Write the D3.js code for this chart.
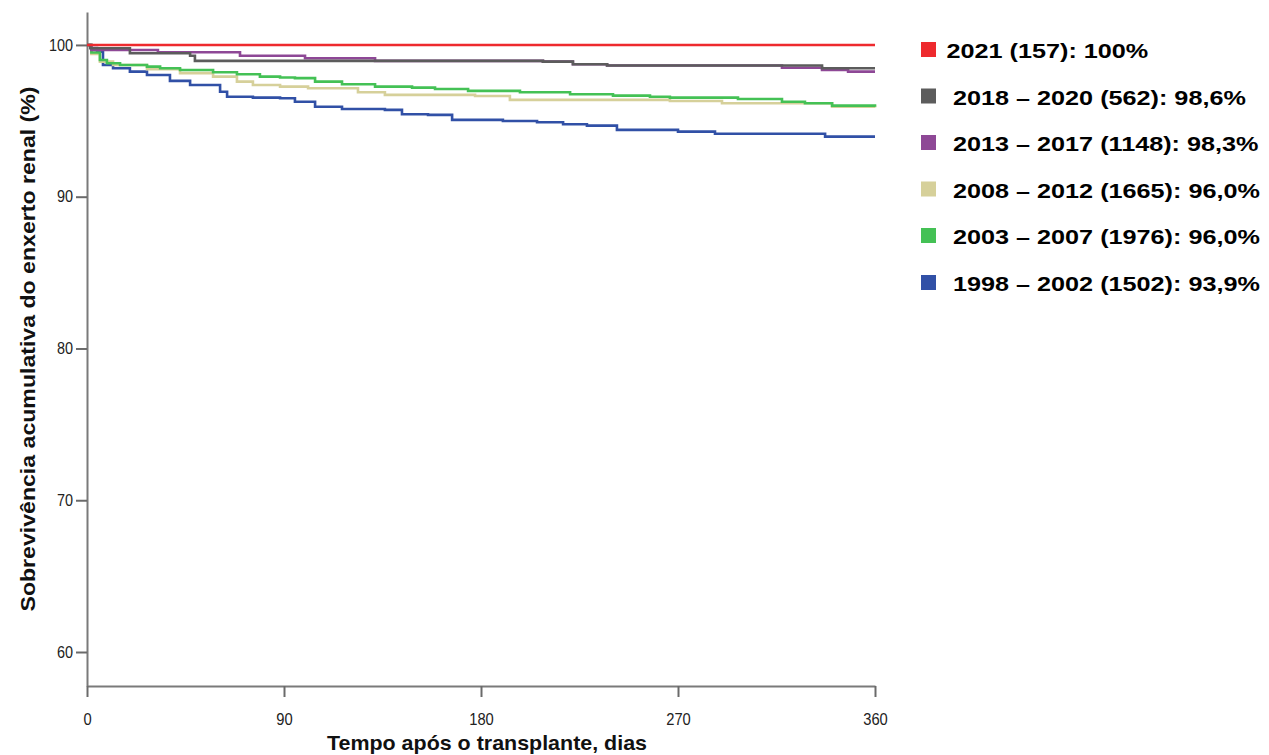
<!DOCTYPE html>
<html>
<head>
<meta charset="utf-8">
<script src="https://cdn.jsdelivr.net/npm/d3@7"></script>
<style>
  html, body { margin: 0; padding: 0; background: #fff; }
  svg { display: block; }
  text { font-family: "Liberation Sans", Arial, sans-serif; }
</style>
</head>
<body>
<svg id="chart" width="1269" height="755"></svg>
<script>
// ---------- data ----------
const seriesLabels = [
  "2021 (157): 100%",
  " 2018 \u2013 2020 (562): 98,6%",
  " 2013 \u2013 2017 (1148): 98,3%",
  " 2008 \u2013 2012 (1665): 96,0%",
  " 2003 \u2013 2007 (1976): 96,0%",
  " 1998 \u2013 2002 (1502): 93,9%"
];
const seriesColors = ["#ee2a2e", "#5c5c5c", "#8e4896", "#d6d09a", "#44c155", "#3150a6"];

const days2021 = [0, 360];
const surv2021 = [100, 100];

const days2018 = [0, 1.5, 19.6, 47.1, 49.3, 208.3, 222, 237.6, 335.8, 360];
const surv2018 = [100, 99.78, 99.45, 99.29, 98.95, 98.9, 98.73, 98.64, 98.46, 98.46];

const days2013 = [0, 2, 32.4, 69.9, 99.6, 131.6, 208.3, 222, 237.6, 317.5, 335.8, 347.7, 360];
const surv2013 = [100, 99.67, 99.52, 99.29, 99.12, 98.95, 98.9, 98.73, 98.64, 98.5, 98.35, 98.24, 98.24];

const days2008 = [0, 2, 5.9, 11.9, 27.4, 42.5, 57.6, 68.5, 75.8, 88.2, 101.0, 123.8, 136.1, 177.3, 193.2, 266.3, 290.1, 340.4, 360];
const surv2008 = [100, 99.4, 98.9, 98.68, 98.4, 98.14, 97.91, 97.58, 97.36, 97.25, 97.15, 96.88, 96.71, 96.64, 96.38, 96.31, 96.16, 95.93, 95.87];

const days2003 = [0, 2, 5.9, 9.1, 15.1, 27.4, 33.4, 42.5, 57.6, 68.5, 79.0, 88.2, 95.0, 104.2, 116.5, 131.6, 148.5, 159.0, 174.1, 197.8, 220.7, 240.3, 257.2, 266.3, 297.4, 317.5, 328.0, 340.4, 360];
const surv2003 = [100, 99.5, 99.01, 98.79, 98.68, 98.57, 98.46, 98.35, 98.2, 98.07, 97.91, 97.85, 97.81, 97.58, 97.41, 97.25, 97.19, 97.1, 96.97, 96.88, 96.75, 96.66, 96.59, 96.53, 96.44, 96.26, 96.16, 96.0, 95.93];

const days1998 = [0, 2, 4.6, 7.3, 11.9, 19.6, 27.4, 37.9, 47.1, 60.8, 64.0, 75.8, 88.2, 95.0, 104.2, 116.5, 136.1, 143.9, 155.8, 166.8, 190.0, 205.6, 217.5, 228.4, 242.1, 270.0, 286.9, 337.2, 360];
const surv1998 = [100, 99.8, 99.56, 98.68, 98.46, 98.24, 98.02, 97.63, 97.36, 96.92, 96.59, 96.53, 96.49, 96.26, 95.93, 95.78, 95.72, 95.43, 95.39, 95.06, 94.99, 94.91, 94.77, 94.68, 94.4, 94.29, 94.15, 93.96, 93.96];

const xTicks = [0, 90, 180, 270, 360];
const yTicks = [60, 70, 80, 90, 100];
const xTitle = "Tempo ap\u00f3s o transplante, dias";
const yTitle = "Sobreviv\u00eancia acumulativa do enxerto renal (%)";

// ---------- chart ----------
const svg = d3.select("#chart");
const x = d3.scaleLinear().domain([0, 360]).range([87, 875]);
const y = d3.scaleLinear().domain([57.76, 102.17]).range([686, 12]);

const allDays = [days2021, days2018, days2013, days2008, days2003, days1998];
const allSurv = [surv2021, surv2018, surv2013, surv2008, surv2003, surv1998];

// axes
const yAxis = svg.append("g").attr("transform", "translate(87,0)")
  .call(d3.axisLeft(y).tickValues(yTicks).tickSize(11).tickSizeOuter(0).tickPadding(3).tickFormat(d3.format("d")));
const xAxis = svg.append("g").attr("transform", "translate(0,686)")
  .call(d3.axisBottom(x).tickValues(xTicks).tickSize(11).tickSizeOuter(0).tickPadding(17).tickFormat(d3.format("d")));
[yAxis, xAxis].forEach(g => {
  g.select(".domain").attr("stroke", "#7a7a7a").attr("stroke-width", 2);
  g.selectAll(".tick line").attr("stroke", "#6a6a6a").attr("stroke-width", 2);
  g.selectAll(".tick text").attr("fill", "#222").style("font-size", "16px")
    .style("font-family", "'Liberation Sans', Arial, sans-serif")
    .attr("transform", null);
});
yAxis.selectAll(".tick text").each(function() {
  const t = d3.select(this);
  const w = this.getComputedTextLength();
  t.attr("textLength", w * 0.9).attr("lengthAdjust", "spacingAndGlyphs");
});
xAxis.selectAll(".tick text").each(function() {
  const t = d3.select(this);
  const w = this.getComputedTextLength();
  t.attr("textLength", w * 0.92).attr("lengthAdjust", "spacingAndGlyphs");
});

// curves
const line = d3.line().x(d => x(d[0])).y(d => y(d[1])).curve(d3.curveStepAfter);
const drawOrder = [5, 3, 4, 2, 1, 0];
drawOrder.forEach(i => {
  const pts = allDays[i].map((d, k) => [d, allSurv[i][k]]);
  svg.append("path")
    .attr("d", line(pts))
    .attr("fill", "none")
    .attr("stroke", seriesColors[i])
    .attr("stroke-width", 2.6)
    .attr("stroke-linejoin", "miter");
});

// axis titles
const xt = svg.append("text")
  .attr("x", 487).attr("y", 750)
  .attr("text-anchor", "middle")
  .style("font-size", "21px").style("font-weight", "bold").attr("fill", "#111")
  .text(xTitle);
xt.attr("textLength", 320).attr("lengthAdjust", "spacingAndGlyphs");

const yt = svg.append("text")
  .attr("transform", "translate(35,349) rotate(-90)")
  .attr("text-anchor", "middle")
  .style("font-size", "21px").style("font-weight", "bold").attr("fill", "#111")
  .text(yTitle);
yt.attr("textLength", 525).attr("lengthAdjust", "spacingAndGlyphs");

// legend
const legendRowY = [49.5, 96, 142.5, 189, 235.5, 282.5];
const legend = svg.append("g");
seriesLabels.forEach((lab, i) => {
  const cy = legendRowY[i];
  legend.append("rect")
    .attr("x", 921).attr("y", cy - 7.5)
    .attr("width", 15).attr("height", 15)
    .attr("fill", seriesColors[i]);
  const t = legend.append("text")
    .attr("x", i === 0 ? 946.5 : 953)
    .attr("y", cy + 8.5)
    .attr("fill", "#000")
    .style("font-size", "21px").style("font-weight", "bold")
    .text(lab.trim());
  const w = t.node().getComputedTextLength();
  t.attr("textLength", w * 1.2).attr("lengthAdjust", "spacingAndGlyphs");
});
</script>
</body>
</html>
